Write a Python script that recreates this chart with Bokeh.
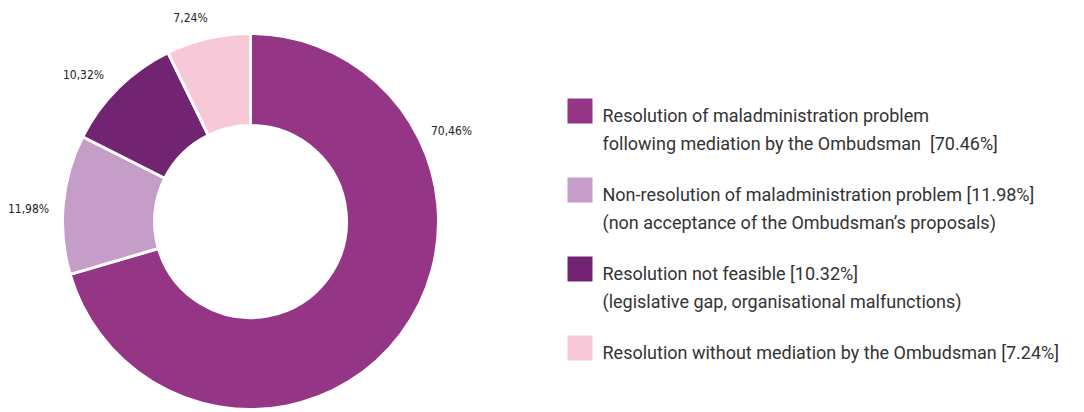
from bokeh.plotting import figure
from bokeh.models import Range1d, ColumnDataSource
from bokeh.core.properties import value
from bokeh.embed import file_html
from bokeh.resources import INLINE
import math

# ---- data ----
categories = [
    "Resolution of maladministration problem following mediation by the Ombudsman",
    "Non-resolution of maladministration problem",
    "Resolution not feasible",
    "Resolution without mediation by the Ombudsman",
]
shares = [70.46, 11.98, 10.32, 7.24]
slice_labels = ["70,46%", "11,98%", "10,32%", "7,24%"]
legend_line1 = [
    "Resolution of maladministration problem",
    "Non-resolution of maladministration problem [11.98%]",
    "Resolution not feasible [10.32%]",
    "Resolution without mediation by the Ombudsman [7.24%]",
]
legend_line2 = [
    "following mediation by the Ombudsman \u00a0[70.46%]",
    "(non acceptance of the Ombudsman\u2019s proposals)",
    "(legislative gap, organisational malfunctions)",
    "",
]
colors = ["#943585", "#c69dc8", "#722473", "#f7c8d8"]

# ---- layout (pixels, image coordinates) ----
W, H = 1084, 412
def py(img_y):
    return H - img_y
def px(img_x):
    return img_x

cx, cy = px(250), py(221)
r_in, r_out = 96, 188
label_pos = [(451, 130), (28, 208), (83, 74), (190, 17)]
label_font = value("'Liberation Sans Narrow', 'DejaVu Sans Condensed', 'Roboto'")

p = figure(width=W, height=H, output_backend="svg", toolbar_location=None,
           x_range=Range1d(0, W), y_range=Range1d(0, H), min_border=0)
p.axis.visible = False
p.grid.visible = False
p.outline_line_color = None
p.background_fill_color = "white"

total = sum(shares)
starts, ends = [], []
a = math.pi / 2
for s in shares:
    starts.append(a)
    a -= s / total * 2 * math.pi
    ends.append(a)

src = ColumnDataSource(dict(start=starts, end=ends, color=colors, cat=categories))
p.annular_wedge(x=cx, y=cy, inner_radius=r_in, outer_radius=r_out,
                start_angle="start", end_angle="end", direction="clock",
                fill_color="color", line_color="white", line_width=3, source=src)

# slice labels
p.text(x=[px(x) for x, _ in label_pos], y=[py(y) for _, y in label_pos], text=slice_labels,
       text_font=label_font, text_font_size="12px", text_color="#222222",
       text_align="center", text_baseline="middle")

# legend
sq_top = [98, 177, 256, 335]
sq = 25
p.rect(x=[px(567 + sq / 2)] * 4, y=[py(t + sq / 2) for t in sq_top], width=sq, height=sq,
       fill_color=colors, line_color=None)
p.text(x=[px(602)] * 4, y=[py(t + 17) for t in sq_top], text=legend_line1,
       text_font=value("Roboto"), text_font_size="18px", text_color="#333333",
       text_baseline="alphabetic")
p.text(x=[px(602)] * 4, y=[py(t + 45) for t in sq_top], text=legend_line2,
       text_font=value("Roboto"), text_font_size="18px", text_color="#333333",
       text_baseline="alphabetic")

open("out.html", "w").write(file_html(p, INLINE))
